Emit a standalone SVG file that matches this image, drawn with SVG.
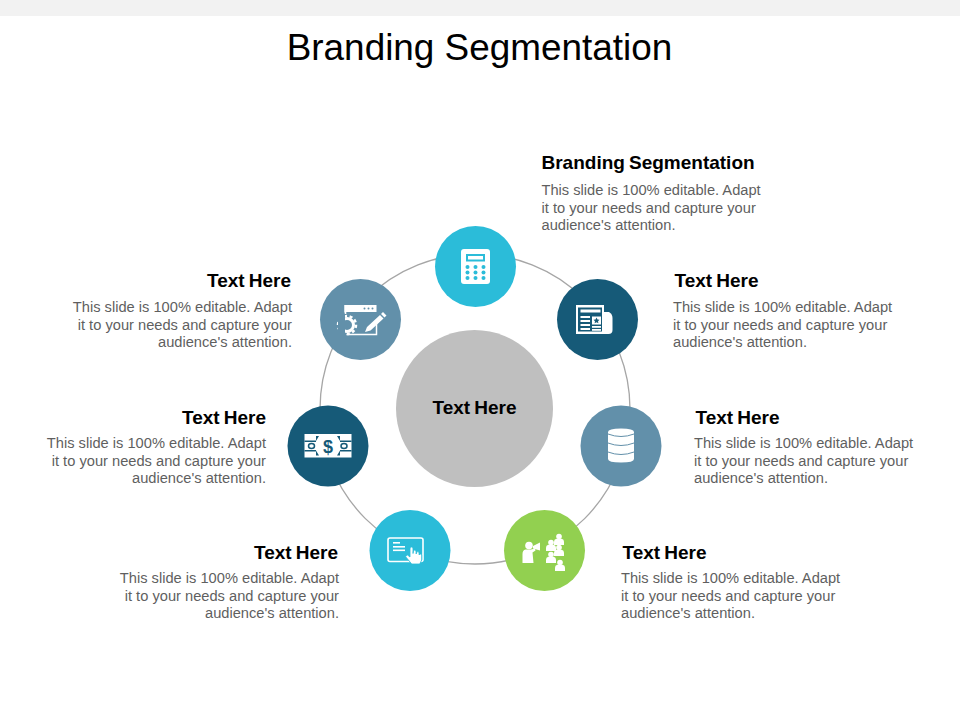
<svg xmlns="http://www.w3.org/2000/svg" width="960" height="720" viewBox="0 0 960 720">
<style>
text{font-family:"Liberation Sans",Arial,sans-serif}
.t{font-size:36.900px;fill:#000}
.h{font-size:19px;font-weight:700;fill:#000;word-spacing:-1.200px}
.b{font-size:14.670px;fill:#5f5f5f}
.e{text-anchor:end}
.i{fill:#fff}
.teal{fill:#2bbcd9}.navy{fill:#165a78}.slate{fill:#6290aa}.green{fill:#92d050}
</style>
<defs>
<g id="person"><circle cx="0" cy="-3.500" r="2.800"/><path d="M-5 5v-3.500q0-2.300 2.300-2.800h5.400q2.300 .5 2.300 2.800v3.500z"/></g>
</defs>
<rect width="960" height="720" fill="#fff"/>
<rect width="960" height="16" fill="#f2f2f2"/>
<text class="t" x="479.500" y="60" text-anchor="middle">Branding Segmentation</text>
<g id="connectors"><circle cx="475" cy="409" r="155" fill="none" stroke="#a6a6a6" stroke-width="1.300"/></g>
<g id="center"><circle cx="474.500" cy="408.500" r="78.500" fill="#bfbfbf"/><text class="h" x="474.500" y="414" text-anchor="middle">Text Here</text></g>
<g id="node-calculator"><circle class="teal" cx="475.500" cy="266.500" r="40.500"/>
<rect class="i" x="461" y="249" width="29" height="35" rx="3"/>
<rect x="466" y="254" width="19" height="7.500" fill="#2bbcd9"/><rect class="i" x="468" y="256" width="15" height="3.500"/>
<g fill="#2bbcd9"><circle cx="467.500" cy="267" r="2"/><circle cx="475.500" cy="267" r="2"/><circle cx="483.500" cy="267" r="2"/><circle cx="467.500" cy="272.500" r="2"/><circle cx="475.500" cy="272.500" r="2"/><circle cx="483.500" cy="272.500" r="2"/><circle cx="467.500" cy="278" r="2"/><circle cx="475.500" cy="278" r="2"/><circle cx="483.500" cy="278" r="2"/></g></g>
<g id="node-news"><circle class="navy" cx="597.500" cy="319.500" r="40.500"/>
<path class="i" d="M603 312h6q3.500 2 3.500 6v12q0 4-4 4h-5z"/>
<rect class="i" x="576" y="305" width="28" height="29"/>
<rect x="578" y="307.500" width="24" height="24" fill="#165a78"/>
<rect class="i" x="580.500" y="309.500" width="20" height="3"/>
<rect class="i" x="580.500" y="316" width="9.500" height="2"/><rect class="i" x="580.500" y="320" width="9.500" height="2"/><rect class="i" x="580.500" y="324" width="9.500" height="2"/><rect class="i" x="580.500" y="328" width="9.500" height="2"/>
<rect class="i" x="592" y="316.500" width="9" height="8"/><path fill="#165a78" d="M596.500 317.500l1 2 2 .3-1.500 1.500.4 2-1.900-1-1.900 1 .4-2-1.500-1.500 2-.3z"/><rect class="i" x="592" y="326" width="9" height="1.800"/><rect class="i" x="592" y="329" width="9" height="1.800"/></g>
<g id="node-database"><circle class="slate" cx="621" cy="446" r="40.500"/>
<path class="i" d="M608 432q0-3.500 13-3.500t13 3.500v27q0 3.500-13 3.500t-13-3.500z"/>
<path d="M608 434q13 5 26 0M608 443q13 5 26 0M608 452q13 5 26 0" fill="none" stroke="#6290aa" stroke-width="1"/></g>
<g id="node-people"><circle class="green" cx="544.500" cy="550.500" r="40.500"/>
<g class="i"><circle cx="529" cy="545.500" r="3.800"/><path d="M522.500 563v-9q0-4 3-4.500h5.500l4-1 .5 2-3 2 1 10.500z"/><path d="M533 546l7-3.500v8l-7-2z"/>
<use href="#person" x="551" y="546"/><use href="#person" x="559" y="540"/><use href="#person" x="559" y="551"/><use href="#person" x="551" y="558"/><use href="#person" x="560" y="566"/></g></g>
<g id="node-touch"><circle class="teal" cx="410" cy="550.500" r="40.500"/>
<rect x="388" y="538" width="35" height="23.500" rx="2" fill="none" stroke="#fff" stroke-width="1.600"/>
<rect class="i" x="393" y="542" width="7" height="1.600"/><rect class="i" x="393" y="546" width="12" height="1.600"/><rect class="i" x="393" y="549.500" width="12" height="1.600"/>
<path class="i" stroke="#2bbcd9" stroke-width="0.800" d="M405.500 556.500l2-1.500 2.500 2v-9q1.500-2 3 0v5.500l.5-3q1.500-1 2.500 .5l.2 3 .5-2q1.500-1 2.300 .5l.2 2.500.5-1q1.500-.5 2 1v5l-2 4h-8z"/></g>
<g id="node-money"><circle class="navy" cx="328" cy="446" r="40.500"/>
<rect class="i" x="304.500" y="434" width="47" height="23.500"/>
<g fill="#165a78"><rect x="304.500" y="440.500" width="11.500" height="1.500"/><rect x="304.500" y="450" width="11.500" height="1.500"/><rect x="340" y="440.500" width="11.500" height="1.500"/><rect x="340" y="450" width="11.500" height="1.500"/><path d="M316 436h3l-3 5zM340 436h-3l3 5zM316 455.500h3l-3-5zM340 455.500h-3l3-5z"/></g>
<g fill="none" stroke="#165a78" stroke-width="1.500"><ellipse cx="311.500" cy="446" rx="3" ry="2.500"/><ellipse cx="344" cy="446" rx="3" ry="2.500"/></g>
<text x="328" y="453" text-anchor="middle" font-size="18" font-weight="700" fill="#165a78">$</text></g>
<g id="node-settings"><circle class="slate" cx="360.500" cy="319.500" r="40.500"/>
<path d="M376.500 322v12.500h-30" fill="none" stroke="#fff" stroke-width="1.500"/>
<rect class="i" x="344.500" y="305" width="32" height="7"/><rect class="i" x="344.500" y="305" width="1.800" height="9"/>
<g fill="#6290aa"><circle cx="364.500" cy="308.500" r="1"/><circle cx="368.500" cy="308.500" r="1"/><circle cx="372.500" cy="308.500" r="1"/></g>
<g fill="none" stroke="#fff"><circle cx="347" cy="325" r="6.500" stroke-width="3"/><circle cx="347" cy="325" r="9" stroke-width="2.500" stroke-dasharray="3 2.600"/></g>
<rect x="338" y="313.500" width="7" height="23" fill="#6290aa"/>
<path class="i" d="M367 327l13-12 3.500 3.500-13 12-5.500 1.500zM381 314l2-2 3.500 3.500-2 2z"/></g>
<g id="label-top"><text class="h" x="541.500" y="169">Branding Segmentation</text><text class="b"><tspan x="541.500" y="195">This slide is 100% editable. Adapt</tspan><tspan x="541.500" y="213">it to your needs and capture your</tspan><tspan x="541.500" y="230">audience's attention.</tspan></text></g>
<g id="label-news"><text class="h" x="674.500" y="287">Text Here</text><text class="b"><tspan x="673" y="312">This slide is 100% editable. Adapt</tspan><tspan x="673" y="330">it to your needs and capture your</tspan><tspan x="673" y="347">audience's attention.</tspan></text></g>
<g id="label-database"><text class="h" x="695.500" y="424">Text Here</text><text class="b"><tspan x="694" y="448">This slide is 100% editable. Adapt</tspan><tspan x="694" y="466">it to your needs and capture your</tspan><tspan x="694" y="483">audience's attention.</tspan></text></g>
<g id="label-people"><text class="h" x="622.500" y="559">Text Here</text><text class="b"><tspan x="621" y="583">This slide is 100% editable. Adapt</tspan><tspan x="621" y="601">it to your needs and capture your</tspan><tspan x="621" y="618">audience's attention.</tspan></text></g>
<g id="label-touch"><text class="h e" x="338" y="559">Text Here</text><text class="b e"><tspan x="339" y="583">This slide is 100% editable. Adapt</tspan><tspan x="339" y="601">it to your needs and capture your</tspan><tspan x="339" y="618">audience's attention.</tspan></text></g>
<g id="label-money"><text class="h e" x="266" y="424">Text Here</text><text class="b e"><tspan x="266" y="448">This slide is 100% editable. Adapt</tspan><tspan x="266" y="466">it to your needs and capture your</tspan><tspan x="266" y="483">audience's attention.</tspan></text></g>
<g id="label-settings"><text class="h e" x="291" y="287">Text Here</text><text class="b e"><tspan x="292" y="312">This slide is 100% editable. Adapt</tspan><tspan x="292" y="330">it to your needs and capture your</tspan><tspan x="292" y="347">audience's attention.</tspan></text></g>
</svg>
